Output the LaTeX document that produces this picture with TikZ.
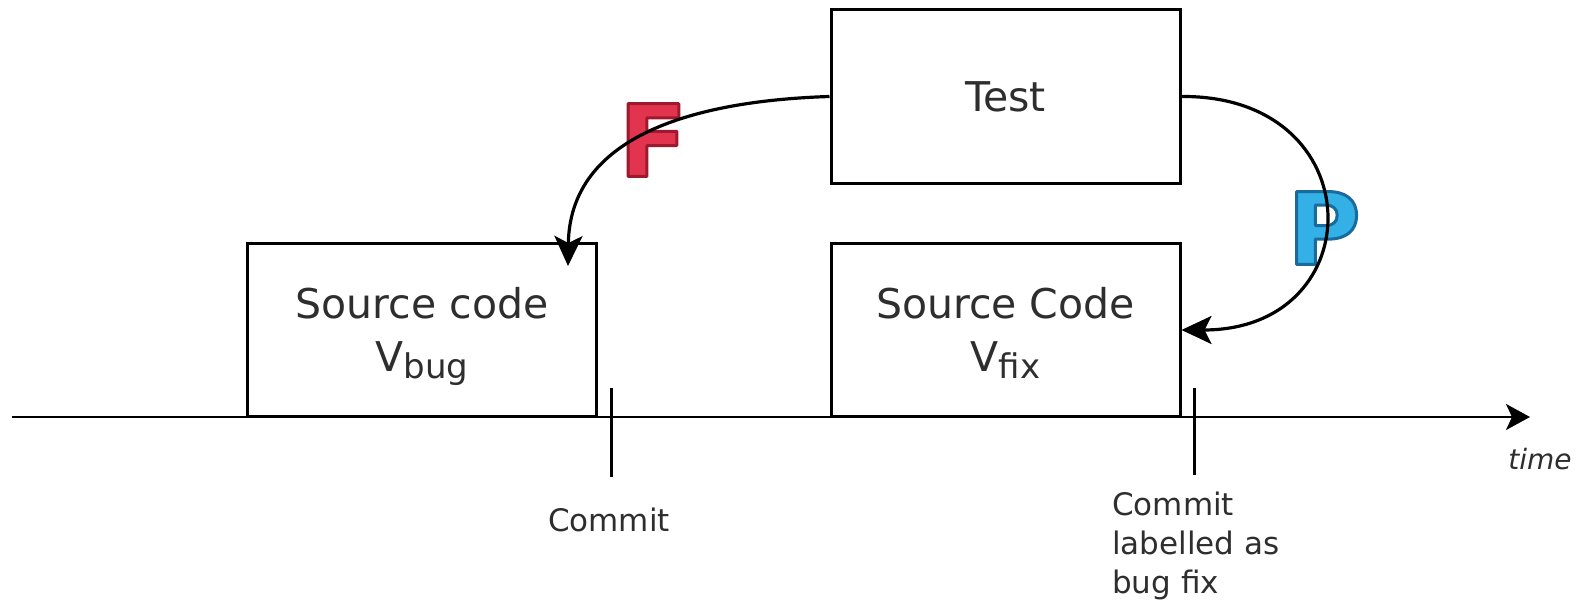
\documentclass[tikz,border=0pt]{standalone}
\usepackage{fontspec}
\setmainfont{DejaVu Sans}
\usetikzlibrary{arrows.meta}
\definecolor{txt}{HTML}{2E2E2E}
\definecolor{redF}{HTML}{E3344F}
\definecolor{blueP}{HTML}{33B0E6}
\newcommand{\outlined}[2]{\special{pdf:literal 2 Tr 3 w 1 j #1 RG}#2\special{pdf:literal 0 Tr 0 0 0 RG 1 w 0 j}}
\tikzset{
  box/.style={draw=black, line width=3pt, rectangle, inner sep=0pt, text=txt, align=center,
    font=\fontsize{41}{53}\selectfont},
  curvearrow/.style={draw=black, line width=3.2pt, -{Stealth[length=30pt, width=28pt, inset=7pt]}},
  axis/.style={draw=black, line width=2.4pt, -{Stealth[length=24pt, width=26pt, inset=6pt]}},
  tick/.style={draw=black, line width=3pt},
  small/.style={text=txt, font=\fontsize{31}{39}\selectfont, inner sep=0pt},
  bigletter/.style={font=\fontsize{100}{100}\selectfont\bfseries, inner sep=0pt}
}
\begin{document}
\begin{tikzpicture}[x=1pt, y=-1pt]
\useasboundingbox (0,0) rectangle (1583,601);
% boxes
\node[box, minimum width=349pt, minimum height=174pt] (test) at (1005.5,96.5) {Test};
\node[box, minimum width=349pt, minimum height=173pt] (vbug) at (422,330) {};
\node[box, minimum width=349pt, minimum height=173pt] (vfix) at (1005.5,330) {};
\node[box, draw=none, anchor=base] (vbugt) at (422,372)
  {Source code\\V\raisebox{-7pt}{\fontsize{34}{34}\selectfont bug}};
\node[box, draw=none, anchor=base] (vfixt) at (1005.5,372)
  {Source Code\\V\raisebox{-7pt}{\fontsize{34}{34}\selectfont fix}};
% timeline
\coordinate (t0) at (12,417);
\coordinate (t1) at (1530,417);
\draw[axis] (t0) -- (t1);
\coordinate (c1a) at (611,388);
\coordinate (c1b) at (611,477);
\coordinate (c2a) at (1194,388);
\coordinate (c2b) at (1194,475);
\draw[tick] (c1a) -- (c1b);
\draw[tick] (c2a) -- (c2b);
\node[small] (commit1) at (609,520) {Commit};
\node[small, anchor=north west, align=left] (commit2) at (1112,492) {Commit\\labelled as\\bug fix};
\node[small, anchor=base, font=\fontsize{28}{30}\selectfont\itshape] (time) at (1540,470) {time};
% letters
\node[bigletter, text=redF] (F) at (653,140) {\outlined{0.62 0.1 0.18}{F}};
\node[bigletter, text=blueP] (P) at (1324,228) {\outlined{0.1 0.42 0.62}{P}};
% arrows
\coordinate (fend) at (568,266);
\draw[curvearrow] (test.west) .. controls (720,100) and (570,125) .. (fend);
\draw[curvearrow] (test.east) .. controls (1373,95) and (1373,330) .. (vfix.east);
\end{tikzpicture}
\end{document}
